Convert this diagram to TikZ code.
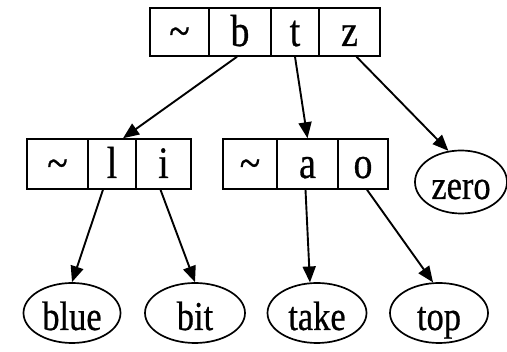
\documentclass[tikz,border=0pt]{standalone}
\usepackage{fontspec}
\setmainfont{Liberation Serif}[FakeStretch=0.84,FakeBold=0.6]
\usetikzlibrary{arrows.meta,shapes.geometric}
\begin{document}
\begin{tikzpicture}[x=1pt,y=-1pt,
  cell/.style={draw,line width=1.5pt,inner sep=0pt,minimum height=48pt,
    text height=28pt,text depth=0pt,font=\fontsize{45}{52}\selectfont},
  leaf/.style={draw,ellipse,line width=1.7pt,inner sep=0pt,minimum height=60pt,
    text height=34pt,text depth=0pt,font=\fontsize{41}{48}\selectfont},
  edge/.style={line width=1.9pt,-{Triangle[length=16pt,width=13pt]}}]
\useasboundingbox (0,0) rectangle (507,352);
% top record
\node[cell,minimum width=59pt] (r0) at (179.5,32) {\textasciitilde};
\node[cell,minimum width=62pt] (b) at (240,32) {b};
\node[cell,minimum width=48pt] (t) at (295,32) {t};
\node[cell,minimum width=61pt] (z) at (349.5,32) {z};
% left record
\node[cell,minimum width=61pt,minimum height=50pt] (r1) at (57.5,164) {\textasciitilde};
\node[cell,minimum width=48pt,minimum height=50pt] (l) at (112,164) {l};
\node[cell,minimum width=55pt,minimum height=50pt] (i) at (163.5,164) {i};
% middle record
\node[cell,minimum width=54pt,minimum height=50pt] (r2) at (250,164) {\textasciitilde};
\node[cell,minimum width=61pt,minimum height=50pt] (a) at (307.5,164) {a};
\node[cell,minimum width=50pt,minimum height=50pt] (o) at (363,164) {o};
% leaves
\node[leaf,minimum width=92pt,minimum height=63pt] (zero) at (461,182) {zero};
\node[leaf,minimum width=97pt] (blue) at (72,313) {blue};
\node[leaf,minimum width=100pt] (bit) at (195,313) {bit};
\node[leaf,minimum width=99pt] (take) at (317,313) {take};
\node[leaf,minimum width=98pt] (top) at (439,313) {top};
% edges
\draw[edge] ([xshift=-3pt]b.south) -- ([xshift=11pt]l.north);
\draw[edge] (t.south) -- (a.north);
\draw[edge] ([xshift=7pt]z.south) -- (zero.112);
\draw[edge] ([xshift=-9pt]l.south) -- (blue.north);
\draw[edge] ([xshift=-3pt]i.south) -- (bit.north);
\draw[edge] ([xshift=-2pt]a.south) -- (take.103);
\draw[edge] ([xshift=4pt]o.south) -- (top.101);
\end{tikzpicture}
\end{document}
